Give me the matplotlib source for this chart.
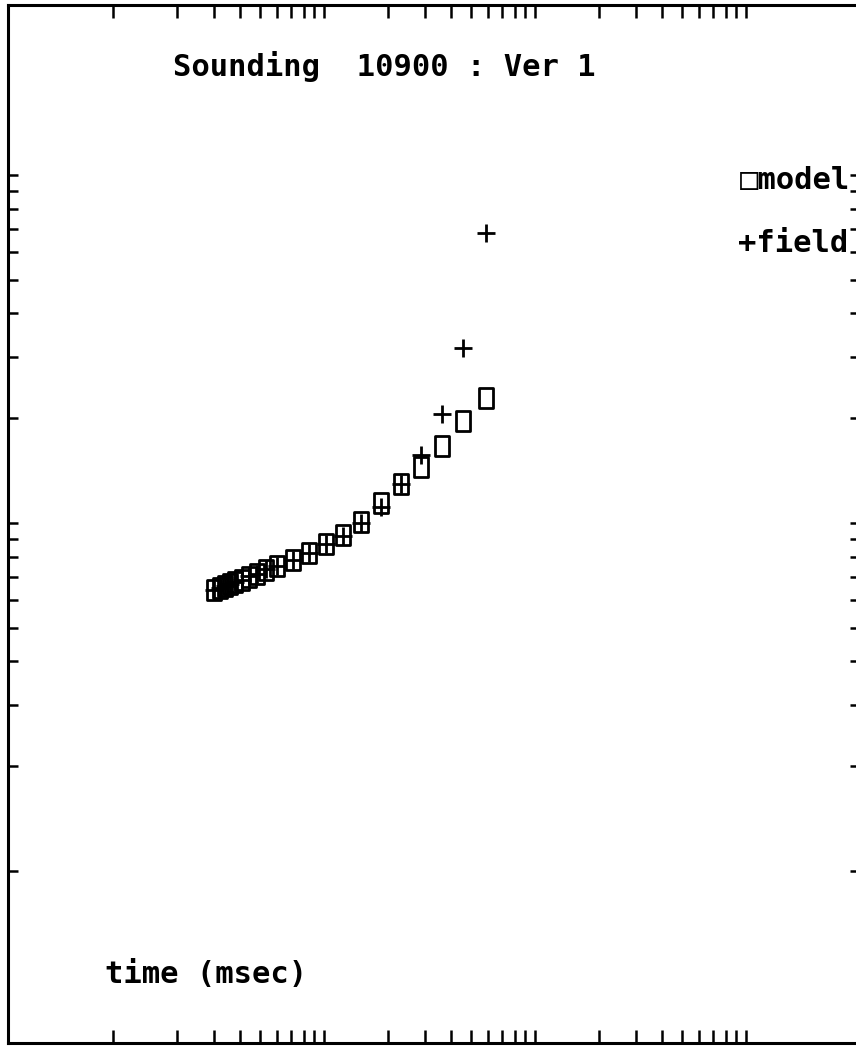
import matplotlib
matplotlib.use("Agg")

import matplotlib.pyplot as plt
from matplotlib.path import Path


# ==========================================================
# DATOS
# ==========================================================

# tiempos de las ventanas (msec)
tiempo = [
    0.030, 0.032, 0.034, 0.036, 0.038, 0.041, 0.044,
    0.048, 0.053, 0.060, 0.071, 0.085, 0.102, 0.123,
    0.150, 0.186, 0.232, 0.288, 0.362, 0.456, 0.586
]

# respuesta del modelo
modelo = [
    6.42, 6.51, 6.59, 6.68, 6.77, 6.86, 7.00,
    7.14, 7.33, 7.52, 7.83, 8.20, 8.70, 9.24,
    10.07, 11.42, 12.95, 14.49, 16.65, 19.64, 22.87
]

# datos de campo
campo = [
    6.40, 6.52, 6.60, 6.66, 6.78, 6.85, 7.02,
    7.12, 7.35, 7.50, 7.85, 8.18, 8.72, 9.20,
    10.00, 11.12, 12.90, 15.68, 20.57, 31.84, 68.10
]

titulo = "Sounding  10900 : Ver 1"
etiqueta_x = "time (msec)"
leyenda_modelo = "\u25a1model"
leyenda_campo = "+field"

# marcas de los ejes (decadas logaritmicas)
ticks_x = [m * 10.0 ** e for e in (-2, -1, 0) for m in range(1, 10)] + [10.0]
ticks_y = [m * 10.0 ** e for e in (0, 1) for m in range(1, 10)] + [100.0]


# ==========================================================
# FIGURA
# ==========================================================

ancho_px = 856
alto_px = 1053

fig = plt.figure(figsize=(ancho_px / 100, alto_px / 100), dpi=100)
fig.patch.set_facecolor("white")

ax = fig.add_axes([
    8 / ancho_px,
    10 / alto_px,
    (860 - 8) / ancho_px,
    (1043 - 5) / alto_px
])

ax.set_xscale("log")
ax.set_yscale("log")

ax.set_xlim(0.00318, 34.7)
ax.set_ylim(0.3204, 307.8)

# rectangulo alto para el modelo
rect = Path(
    [(-0.7, -1), (0.7, -1), (0.7, 1), (-0.7, 1), (-0.7, -1)],
    [Path.MOVETO, Path.LINETO, Path.LINETO, Path.LINETO, Path.CLOSEPOLY]
)

ax.plot(
    tiempo,
    modelo,
    linestyle="none",
    marker=rect,
    markersize=14.5,
    markerfacecolor="none",
    markeredgecolor="black",
    markeredgewidth=2.0
)

ax.plot(
    tiempo,
    campo,
    linestyle="none",
    marker="+",
    markersize=13.5,
    markeredgecolor="black",
    markeredgewidth=2.0
)


# ==========================================================
# EJES
# ==========================================================

for lado in ax.spines.values():
    lado.set_linewidth(2.2)
    lado.set_color("black")

ax.xaxis.set_major_locator(matplotlib.ticker.FixedLocator(ticks_x))
ax.xaxis.set_minor_locator(matplotlib.ticker.NullLocator())
ax.yaxis.set_major_locator(matplotlib.ticker.FixedLocator(ticks_y))
ax.yaxis.set_minor_locator(matplotlib.ticker.NullLocator())

ax.tick_params(
    axis="x",
    which="major",
    direction="in",
    length=9.5,
    width=1.8,
    top=True,
    bottom=True,
    labelbottom=False,
    labeltop=False
)

ax.tick_params(
    axis="y",
    which="major",
    direction="in",
    length=7.5,
    width=1.8,
    left=True,
    right=True,
    labelleft=False,
    labelright=False
)


# ==========================================================
# TEXTOS
# ==========================================================

fuente = ["DejaVu Sans Mono", "DejaVu Sans"]

fig.text(
    173 / ancho_px,
    1 - 76 / alto_px,
    titulo,
    family=fuente,
    fontweight="bold",
    fontsize=22,
    ha="left",
    va="baseline"
)

fig.text(
    105 / ancho_px,
    1 - 983 / alto_px,
    etiqueta_x,
    family=fuente,
    fontweight="bold",
    fontsize=22,
    ha="left",
    va="baseline"
)

fig.text(
    740 / ancho_px,
    1 - 189 / alto_px,
    leyenda_modelo,
    family=fuente,
    fontweight="bold",
    fontsize=22,
    ha="left",
    va="baseline"
)

fig.text(
    738 / ancho_px,
    1 - 252 / alto_px,
    leyenda_campo,
    family=fuente,
    fontweight="bold",
    fontsize=22,
    ha="left",
    va="baseline"
)

fig.savefig("out.png", dpi=100, facecolor="white")
plt.close(fig)
